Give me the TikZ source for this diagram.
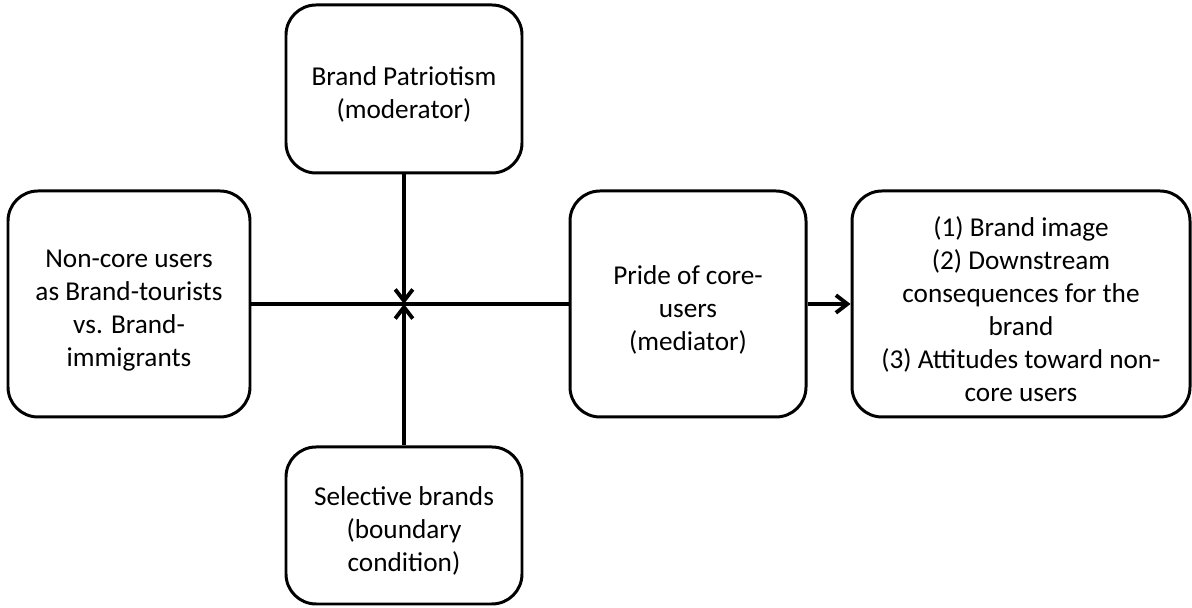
\documentclass[tikz,border=0pt]{standalone}
\usepackage{fontspec}
\setmainfont{Carlito}
\usetikzlibrary{arrows.meta}

\begin{document}
\begin{tikzpicture}[
    box/.style={draw, line width=1.7pt, rounded corners=0.6cm, align=center,
      font=\fontsize{15.5}{18.8}\selectfont, inner sep=0pt},
    link/.style={line width=2.2pt},
    >={Straight Barb[length=6.5pt,width=10pt]}]
  \useasboundingbox (0,0) rectangle (23.84,12.16);

  \node[box, minimum width=4.84cm, minimum height=4.52cm] (users) at (2.58,6.08)
    {\rule{0pt}{17pt}Non-core users\\as Brand-tourists\\vs. Brand-\\immigrants};
  \node[box, minimum width=4.72cm, minimum height=3.36cm] (patriot) at (8.08,10.38)
    {\rule{0pt}{17pt}Brand Patriotism\\(moderator)};
  \node[box, minimum width=4.72cm, minimum height=3.14cm] (selective) at (8.08,1.65)
    {\rule{0pt}{17pt}Selective brands\\(boundary\\condition)};
  \node[box, minimum width=4.72cm, minimum height=4.52cm] (pride) at (13.76,6.08)
    {\rule{0pt}{17pt}Pride of core-\\users\\(mediator)};
  \node[box, minimum width=6.76cm, minimum height=4.52cm] (outcome) at (20.42,6.08)
    {\rule{0pt}{17pt}(1) Brand image\\(2) Downstream\\consequences for the\\brand\\(3) Attitudes toward non-\\core users};

  \coordinate (cross) at (8.08,6.08);

  % lines
  \draw[link] (users) -- (pride);
  \draw[link,->] (patriot) -- (cross);
  \draw[link,->] (selective) -- (cross);
  \draw[link,->] (pride) -- (outcome);
\end{tikzpicture}
\end{document}
